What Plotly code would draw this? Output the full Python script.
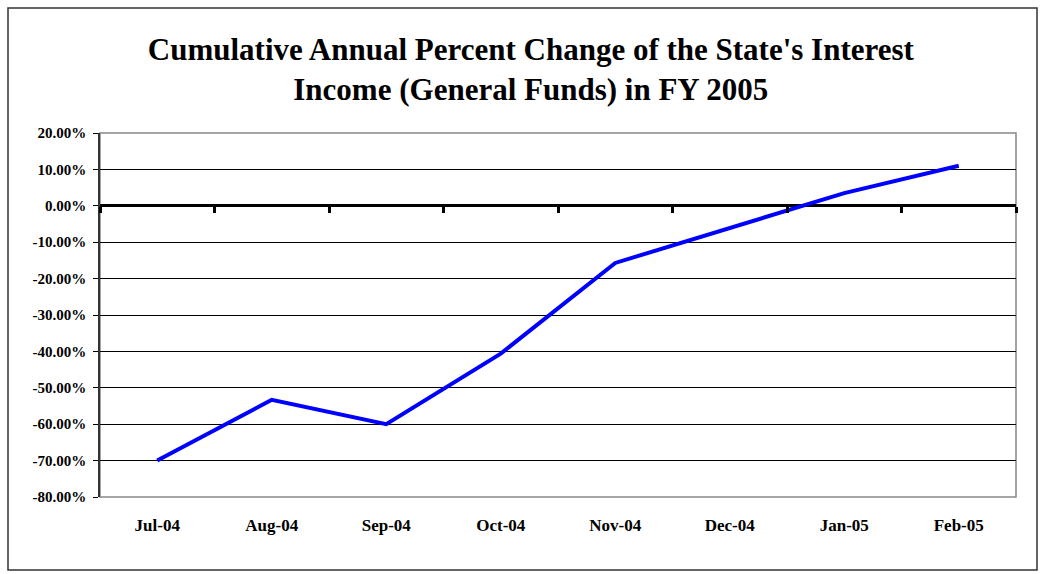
import plotly.graph_objects as go

# Monthly cumulative percent change in interest income, FY 2005
months = ["Jul-04", "Aug-04", "Sep-04", "Oct-04", "Nov-04", "Dec-04", "Jan-05", "Feb-05"]
pct_change = [-70.0, -53.3, -60.0, -40.6, -15.7, -6.1, 3.5, 11.0]
y_ticks = [20, 10, 0, -10, -20, -30, -40, -50, -60, -70, -80]
y_tick_text = [f"{v:.2f}%" for v in y_ticks]

x_pos = list(range(len(months)))
boundaries = [i - 0.5 for i in range(len(months) + 1)]

FONT = "Liberation Serif"

fig = go.Figure()
fig.add_trace(go.Scatter(
    x=x_pos, y=pct_change, mode="lines",
    line=dict(color="#0000FF", width=4),
    hoverinfo="skip", showlegend=False,
))
# invisible trace tied to the zero-line axis so it gets drawn
fig.add_trace(go.Scatter(
    x=[boundaries[0]], y=[0], xaxis="x2", mode="markers",
    marker=dict(opacity=0), hoverinfo="skip", showlegend=False,
))

fig.update_layout(
    width=1047, height=574,
    margin=dict(l=100, r=31, t=133, b=77),
    paper_bgcolor="white", plot_bgcolor="white",
    font=dict(family=FONT, color="black"),
    title=dict(
        text="Cumulative Annual Percent Change of the State's Interest<br>Income (General Funds) in FY 2005",
        font=dict(family=FONT, size=31, color="black", weight="bold"),
        x=0.507, xanchor="center", xref="container",
        y=1 - 60 / 574, yanchor="top", yref="container",
    ),
    xaxis=dict(
        range=[boundaries[0], boundaries[-1]],
        tickvals=x_pos, ticktext=months,
        ticks="", showgrid=False, zeroline=False,
        showline=False, ticklabelstandoff=16,
        tickfont=dict(family=FONT, size=17, color="black", weight="bold"),
    ),
    xaxis2=dict(
        overlaying="x", anchor="free", position=(497 - 206) / 364,
        side="bottom", matches="x", range=[boundaries[0], boundaries[-1]],
        tickvals=boundaries, ticks="outside", ticklen=6, tickwidth=3,
        tickcolor="black", showticklabels=False, showgrid=False,
        zeroline=False, showline=False,
    ),
    yaxis=dict(
        range=[-80, 20], tickvals=y_ticks, ticktext=y_tick_text,
        ticks="outside", ticklen=5, tickcolor="black",
        showgrid=True, gridcolor="black", gridwidth=1,
        zeroline=True, zerolinecolor="black", zerolinewidth=3,
        showline=True, linecolor="#333333", linewidth=1.5,
        ticklabelstandoff=4,
        tickfont=dict(family=FONT, size=15, color="black", weight="bold"),
    ),
    shapes=[
        # plot-area frame
        dict(type="rect", xref="x domain", yref="y domain",
             x0=0, x1=1, y0=0, y1=1,
             line=dict(color="#888888", width=1.5), layer="below"),
        # outer chart border
        dict(type="rect", xref="paper", yref="paper",
             x0=(8 - 100) / 916, x1=(1037 - 100) / 916,
             y0=(497 - 570) / 364, y1=(497 - 8) / 364,
             line=dict(color="#333333", width=1.5)),
    ],
)

fig.write_html("out.html")
